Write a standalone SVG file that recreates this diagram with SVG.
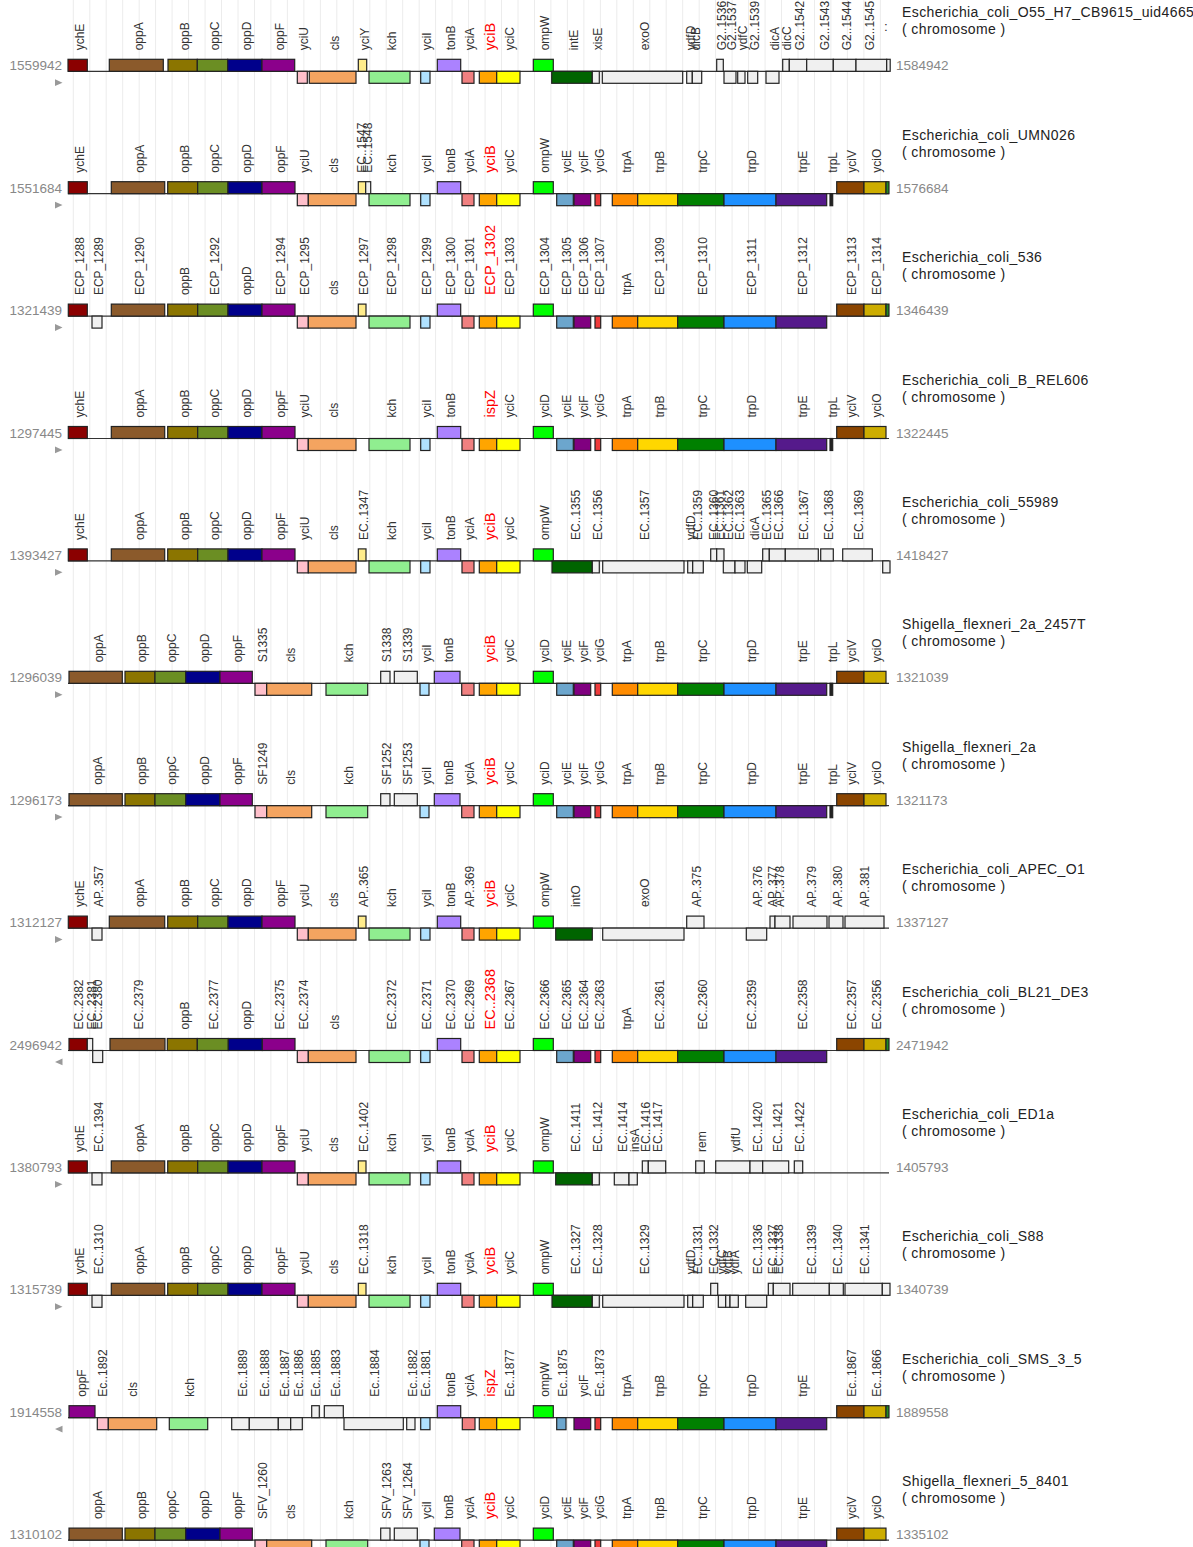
<svg xmlns="http://www.w3.org/2000/svg" width="1193" height="1547" viewBox="0 0 1193 1547">
<style>
.g rect{stroke:#222;stroke-width:1.2}
.l{font-family:"Liberation Sans",Arial,sans-serif;font-size:12px;fill:#333;dominant-baseline:central}
.r{fill:#f00;font-size:14.5px}
.n{font-family:"Liberation Sans",Arial,sans-serif;font-size:13.5px;fill:#888}
.sp{font-family:"Liberation Sans",Arial,sans-serif;font-size:14px;letter-spacing:0.4px;fill:#222}
.bl{stroke:#333;stroke-width:1.2}
.grid line{stroke:#ececec;stroke-width:1}
.ar{fill:#999}
.ychE{fill:#8b0000}.oppA{fill:#8b5a2b}.oppB{fill:#8b7500}.oppC{fill:#6b8e23}.oppD{fill:#00008b}.oppF{fill:#8b008b}
.yciU{fill:#ffc0cb}.cls{fill:#f4a460}.yciY{fill:#ffec8b}.kch{fill:#90ee90}.yciI{fill:#b0e2ff}.tonB{fill:#ab82ff}
.yciA{fill:#f08080}.yciB{fill:#ffa500}.yciC{fill:#ffff00}.ompW{fill:#00ff00}.intE{fill:#006400}.gr{fill:#f0f0f0}
.yciE{fill:#6ca6cd}.yciF{fill:#800080}.yciG{fill:#ee3b3b}.trpA{fill:#ff8c00}.trpB{fill:#ffd700}.trpC{fill:#008000}
.trpD{fill:#1e90ff}.trpE{fill:#551a8b}.trpL{fill:#222}.yciV{fill:#8b4500}.yciO{fill:#cdad00}.tail{fill:#228b22}
</style>
<g class="grid" id="grid">
<line x1="73.3" y1="0" x2="73.3" y2="1547"/><line x1="89.8" y1="0" x2="89.8" y2="1547"/><line x1="106.2" y1="0" x2="106.2" y2="1547"/><line x1="122.7" y1="0" x2="122.7" y2="1547"/><line x1="139.2" y1="0" x2="139.2" y2="1547"/><line x1="155.6" y1="0" x2="155.6" y2="1547"/><line x1="172.1" y1="0" x2="172.1" y2="1547"/><line x1="188.6" y1="0" x2="188.6" y2="1547"/><line x1="205.1" y1="0" x2="205.1" y2="1547"/><line x1="221.5" y1="0" x2="221.5" y2="1547"/>
<line x1="238" y1="0" x2="238" y2="1547"/><line x1="254.5" y1="0" x2="254.5" y2="1547"/><line x1="270.9" y1="0" x2="270.9" y2="1547"/><line x1="287.4" y1="0" x2="287.4" y2="1547"/><line x1="303.9" y1="0" x2="303.9" y2="1547"/><line x1="320.4" y1="0" x2="320.4" y2="1547"/><line x1="336.8" y1="0" x2="336.8" y2="1547"/><line x1="353.3" y1="0" x2="353.3" y2="1547"/><line x1="369.8" y1="0" x2="369.8" y2="1547"/><line x1="386.2" y1="0" x2="386.2" y2="1547"/>
<line x1="402.7" y1="0" x2="402.7" y2="1547"/><line x1="419.2" y1="0" x2="419.2" y2="1547"/><line x1="435.6" y1="0" x2="435.6" y2="1547"/><line x1="452.1" y1="0" x2="452.1" y2="1547"/><line x1="468.6" y1="0" x2="468.6" y2="1547"/><line x1="485.1" y1="0" x2="485.1" y2="1547"/><line x1="501.5" y1="0" x2="501.5" y2="1547"/><line x1="518" y1="0" x2="518" y2="1547"/><line x1="534.5" y1="0" x2="534.5" y2="1547"/><line x1="550.9" y1="0" x2="550.9" y2="1547"/>
<line x1="567.4" y1="0" x2="567.4" y2="1547"/><line x1="583.9" y1="0" x2="583.9" y2="1547"/><line x1="600.4" y1="0" x2="600.4" y2="1547"/><line x1="616.8" y1="0" x2="616.8" y2="1547"/><line x1="633.3" y1="0" x2="633.3" y2="1547"/><line x1="649.8" y1="0" x2="649.8" y2="1547"/><line x1="666.2" y1="0" x2="666.2" y2="1547"/><line x1="682.7" y1="0" x2="682.7" y2="1547"/><line x1="699.2" y1="0" x2="699.2" y2="1547"/><line x1="715.6" y1="0" x2="715.6" y2="1547"/>
<line x1="732.1" y1="0" x2="732.1" y2="1547"/><line x1="748.6" y1="0" x2="748.6" y2="1547"/><line x1="765.1" y1="0" x2="765.1" y2="1547"/><line x1="781.5" y1="0" x2="781.5" y2="1547"/><line x1="798" y1="0" x2="798" y2="1547"/><line x1="814.5" y1="0" x2="814.5" y2="1547"/><line x1="830.9" y1="0" x2="830.9" y2="1547"/><line x1="847.4" y1="0" x2="847.4" y2="1547"/><line x1="863.9" y1="0" x2="863.9" y2="1547"/><line x1="880.4" y1="0" x2="880.4" y2="1547"/>
</g>
<g id="connectors">
<line class="bl" x1="68" y1="71.3" x2="889" y2="71.3"/><line class="bl" x1="68" y1="193.7" x2="889" y2="193.7"/><line class="bl" x1="68" y1="316.1" x2="889" y2="316.1"/><line class="bl" x1="68" y1="438.5" x2="889" y2="438.5"/><line class="bl" x1="68" y1="560.9" x2="889" y2="560.9"/><line class="bl" x1="68" y1="683.3" x2="889" y2="683.3"/><line class="bl" x1="68" y1="805.7" x2="889" y2="805.7"/><line class="bl" x1="68" y1="928.1" x2="889" y2="928.1"/><line class="bl" x1="68" y1="1050.5" x2="889" y2="1050.5"/><line class="bl" x1="68" y1="1172.9" x2="889" y2="1172.9"/><line class="bl" x1="68" y1="1295.3" x2="889" y2="1295.3"/><line class="bl" x1="68" y1="1417.7" x2="889" y2="1417.7"/><line class="bl" x1="68" y1="1540.1" x2="889" y2="1540.1"/>
</g>

<!-- Track 1 -->
<g id="track1" class="g" transform="translate(0,71.3)">
<text class="n" x="62" y="-1" text-anchor="end">1559942</text><text class="n" x="896" y="-1">1584942</text>
<polygon class="ar" points="55,8 62.5,11.4 55,14.8"/>
<text class="sp" x="902" y="-54">Escherichia_coli_O55_H7_CB9615_uid46655</text><text class="sp" x="902" y="-37">( chromosome )</text>
<g id="t1_1"><rect class="ychE" x="68" y="-12" width="19.3" height="12"/><text class="l" transform="translate(79.7,-21)rotate(-90)">ychE</text></g>
<g id="t1_2"><rect class="oppA" x="109.3" y="-12" width="54" height="12"/><text class="l" transform="translate(139,-21)rotate(-90)">oppA</text></g>
<g id="t1_3"><rect class="oppB" x="168" y="-12" width="29.3" height="12"/><text class="l" transform="translate(184.7,-21)rotate(-90)">oppB</text></g>
<g id="t1_4"><rect class="oppC" x="197.3" y="-12" width="30.4" height="12"/><text class="l" transform="translate(214.5,-21)rotate(-90)">oppC</text></g>
<g id="t1_5"><rect class="oppD" x="227.7" y="-12" width="34.3" height="12"/><text class="l" transform="translate(246.9,-21)rotate(-90)">oppD</text></g>
<g id="t1_6"><rect class="oppF" x="262" y="-12" width="32.7" height="12"/><text class="l" transform="translate(280.4,-21)rotate(-90)">oppF</text></g>
<g id="t1_7"><rect class="yciU" x="297.3" y="0" width="10" height="12"/><text class="l" transform="translate(304.3,-21)rotate(-90)">yciU</text></g>
<g id="t1_8"><rect class="cls" x="309.3" y="0" width="46.7" height="12"/><text class="l" transform="translate(334.7,-21)rotate(-90)">cls</text></g>
<g id="t1_9"><rect class="yciY" x="358.3" y="-12" width="8.4" height="12"/><text class="l" transform="translate(364.5,-21)rotate(-90)">yciY</text></g>
<g id="t1_10"><rect class="kch" x="369" y="0" width="41" height="12"/><text class="l" transform="translate(391.5,-21)rotate(-90)">kch</text></g>
<g id="t1_11"><rect class="yciI" x="420.7" y="0" width="9.3" height="12"/><text class="l" transform="translate(427.4,-21)rotate(-90)">yciI</text></g>
<g id="t1_12"><rect class="tonB" x="437.3" y="-12" width="23.4" height="12"/><text class="l" transform="translate(451,-21)rotate(-90)">tonB</text></g>
<g id="t1_13"><rect class="yciA" x="462" y="0" width="12" height="12"/><text class="l" transform="translate(470,-21)rotate(-90)">yciA</text></g>
<g id="t1_14"><rect class="yciB" x="479.3" y="0" width="17.4" height="12"/><text class="l r" transform="translate(490,-21)rotate(-90)">yciB</text></g>
<g id="t1_15"><rect class="yciC" x="496.7" y="0" width="23.3" height="12"/><text class="l" transform="translate(510.4,-21)rotate(-90)">yciC</text></g>
<g id="t1_16"><rect class="ompW" x="533.3" y="-12" width="20" height="12"/><text class="l" transform="translate(545.3,-21)rotate(-90)">ompW</text></g>
<g id="t1_17"><rect class="intE" x="551.7" y="0" width="40.6" height="12"/><text class="l" transform="translate(574,-21)rotate(-90)">intE</text></g>
<g id="t1_18"><rect class="gr" x="592.3" y="0" width="7" height="12"/><text class="l" transform="translate(597.8,-21)rotate(-90)">xisE</text></g>
<g id="t1_19"><rect class="gr" x="602.3" y="0" width="80.4" height="12"/><text class="l" transform="translate(644.5,-21)rotate(-90)">exoO</text></g>
<g id="t1_20"><rect class="gr" x="686.7" y="0" width="5.6" height="12"/><text class="l" transform="translate(691,-21)rotate(-90)">ydfD</text></g>
<g id="t1_21"><rect class="gr" x="692.3" y="0" width="9.4" height="12"/><text class="l" transform="translate(696,-21)rotate(-90)">dicB</text></g>
<g id="t1_22"><rect class="gr" x="716.7" y="-12" width="6.6" height="12"/><text class="l" transform="translate(721.5,-21)rotate(-90)">G2..1536</text></g>
<g id="t1_23"><rect class="gr" x="724" y="0" width="12" height="12"/><text class="l" transform="translate(731.5,-21)rotate(-90)">G2..1537</text></g>
<g id="t1_24"><rect class="gr" x="737.7" y="0" width="7.3" height="12"/><text class="l" transform="translate(742.5,-21)rotate(-90)">ydfC</text></g>
<g id="t1_25"><rect class="gr" x="747.7" y="0" width="10" height="12"/><text class="l" transform="translate(754.5,-21)rotate(-90)">G2..1539</text></g>
<g id="t1_26"><rect class="gr" x="766" y="0" width="13" height="12"/><text class="l" transform="translate(774.5,-21)rotate(-90)">dicA</text></g>
<g id="t1_27"><rect class="gr" x="782.7" y="-12" width="6.6" height="12"/><text class="l" transform="translate(787,-21)rotate(-90)">dicC</text></g>
<g id="t1_28"><rect class="gr" x="789.3" y="-12" width="17.4" height="12"/><text class="l" transform="translate(799.5,-21)rotate(-90)">G2..1542</text></g>
<g id="t1_29"><rect class="gr" x="806.7" y="-12" width="26.6" height="12"/><text class="l" transform="translate(825,-21)rotate(-90)">G2..1543</text></g>
<g id="t1_30"><rect class="gr" x="833.3" y="-12" width="22.7" height="12"/><text class="l" transform="translate(846.5,-21)rotate(-90)">G2..1544</text></g>
<g id="t1_31"><rect class="gr" x="856" y="-12" width="30.7" height="12"/><text class="l" transform="translate(870,-21)rotate(-90)">G2..1545</text></g>
<g id="t1_32"><rect class="gr" x="886.7" y="-12" width="3.5" height="12"/><text class="n" x="884" y="-40" style="fill:#333">:</text></g>
</g>

<!-- Track 2 -->
<g id="track2" class="g" transform="translate(0,193.7)">
<text class="n" x="62" y="-1" text-anchor="end">1551684</text><text class="n" x="896" y="-1">1576684</text>
<polygon class="ar" points="55,8 62.5,11.4 55,14.8"/>
<text class="sp" x="902" y="-54">Escherichia_coli_UMN026</text><text class="sp" x="902" y="-37">( chromosome )</text>
<g id="t2_1"><rect class="ychE" x="68.3" y="-12" width="19" height="12"/><text class="l" transform="translate(79.8,-21)rotate(-90)">ychE</text></g>
<g id="t2_2"><rect class="oppA" x="111.3" y="-12" width="53.4" height="12"/><text class="l" transform="translate(140,-21)rotate(-90)">oppA</text></g>
<g id="t2_3"><rect class="oppB" x="167.7" y="-12" width="30" height="12"/><text class="l" transform="translate(184.7,-21)rotate(-90)">oppB</text></g>
<g id="t2_4"><rect class="oppC" x="197.7" y="-12" width="30.3" height="12"/><text class="l" transform="translate(214.8,-21)rotate(-90)">oppC</text></g>
<g id="t2_5"><rect class="oppD" x="228" y="-12" width="34" height="12"/><text class="l" transform="translate(247,-21)rotate(-90)">oppD</text></g>
<g id="t2_6"><rect class="oppF" x="262" y="-12" width="33" height="12"/><text class="l" transform="translate(280.5,-21)rotate(-90)">oppF</text></g>
<g id="t2_7"><rect class="yciU" x="297.3" y="0" width="11" height="12"/><text class="l" transform="translate(304.8,-21)rotate(-90)">yciU</text></g>
<g id="t2_8"><rect class="cls" x="308.3" y="0" width="47.7" height="12"/><text class="l" transform="translate(334.2,-21)rotate(-90)">cls</text></g>
<g id="t2_9"><rect class="yciY" x="358.3" y="-12" width="7.4" height="12"/><text class="l" transform="translate(362,-21)rotate(-90)">EC..1547</text></g>
<g id="t2_10"><rect class="gr" x="365.7" y="-12" width="5" height="12"/><text class="l" transform="translate(367.5,-21)rotate(-90)">EC..1548</text></g>
<g id="t2_11"><rect class="kch" x="369" y="0" width="41" height="12"/><text class="l" transform="translate(391.5,-21)rotate(-90)">kch</text></g>
<g id="t2_12"><rect class="yciI" x="420.7" y="0" width="9.3" height="12"/><text class="l" transform="translate(427.4,-21)rotate(-90)">yciI</text></g>
<g id="t2_13"><rect class="tonB" x="437.3" y="-12" width="23.4" height="12"/><text class="l" transform="translate(451,-21)rotate(-90)">tonB</text></g>
<g id="t2_14"><rect class="yciA" x="462" y="0" width="12" height="12"/><text class="l" transform="translate(470,-21)rotate(-90)">yciA</text></g>
<g id="t2_15"><rect class="yciB" x="479.3" y="0" width="17.4" height="12"/><text class="l r" transform="translate(490,-21)rotate(-90)">yciB</text></g>
<g id="t2_16"><rect class="yciC" x="496.7" y="0" width="23.3" height="12"/><text class="l" transform="translate(510.4,-21)rotate(-90)">yciC</text></g>
<g id="t2_17"><rect class="ompW" x="533.3" y="-12" width="20" height="12"/><text class="l" transform="translate(545.3,-21)rotate(-90)">ompW</text></g>
<g id="t2_18"><rect class="yciE" x="556.7" y="0" width="16.6" height="12"/><text class="l" transform="translate(567,-21)rotate(-90)">yciE</text></g>
<g id="t2_19"><rect class="yciF" x="574" y="0" width="16.7" height="12"/><text class="l" transform="translate(584.4,-21)rotate(-90)">yciF</text></g>
<g id="t2_20"><rect class="yciG" x="595" y="0" width="5.7" height="12"/><text class="l" transform="translate(599.8,-21)rotate(-90)">yciG</text></g>
<g id="t2_21"><rect class="trpA" x="612.3" y="0" width="25.4" height="12"/><text class="l" transform="translate(627,-21)rotate(-90)">trpA</text></g>
<g id="t2_22"><rect class="trpB" x="637.7" y="0" width="40" height="12"/><text class="l" transform="translate(659.7,-21)rotate(-90)">trpB</text></g>
<g id="t2_23"><rect class="trpC" x="677.7" y="0" width="46.3" height="12"/><text class="l" transform="translate(702.8,-21)rotate(-90)">trpC</text></g>
<g id="t2_24"><rect class="trpD" x="724" y="0" width="52" height="12"/><text class="l" transform="translate(752,-21)rotate(-90)">trpD</text></g>
<g id="t2_25"><rect class="trpE" x="776" y="0" width="50.7" height="12"/><text class="l" transform="translate(803.3,-21)rotate(-90)">trpE</text></g>
<g id="t2_26"><rect class="trpL" x="830" y="0" width="2.7" height="12"/><text class="l" transform="translate(833.3,-21)rotate(-90)">trpL</text></g>
<g id="t2_27"><rect class="yciV" x="836.7" y="-12" width="27.3" height="12"/><text class="l" transform="translate(852.3,-21)rotate(-90)">yciV</text></g>
<g id="t2_28"><rect class="yciO" x="864" y="-12" width="22" height="12"/><text class="l" transform="translate(877,-21)rotate(-90)">yciO</text></g>
<g id="t2_29"><rect class="tail" x="886" y="-12" width="3" height="12"/></g>
</g>

<!-- Track 3 -->
<g id="track3" class="g" transform="translate(0,316.1)">
<text class="n" x="62" y="-1" text-anchor="end">1321439</text><text class="n" x="896" y="-1">1346439</text>
<polygon class="ar" points="55,8 62.5,11.4 55,14.8"/>
<text class="sp" x="902" y="-54">Escherichia_coli_536</text><text class="sp" x="902" y="-37">( chromosome )</text>
<g id="t3_1"><rect class="ychE" x="68.3" y="-12" width="19" height="12"/><text class="l" transform="translate(79.8,-21)rotate(-90)">ECP_1288</text></g>
<g id="t3_2"><rect class="gr" x="92" y="0" width="10" height="12"/><text class="l" transform="translate(99,-21)rotate(-90)">ECP_1289</text></g>
<g id="t3_3"><rect class="oppA" x="111.3" y="-12" width="53.4" height="12"/><text class="l" transform="translate(140,-21)rotate(-90)">ECP_1290</text></g>
<g id="t3_4"><rect class="oppB" x="167.7" y="-12" width="30" height="12"/><text class="l" transform="translate(184.7,-21)rotate(-90)">oppB</text></g>
<g id="t3_5"><rect class="oppC" x="197.7" y="-12" width="30.3" height="12"/><text class="l" transform="translate(214.8,-21)rotate(-90)">ECP_1292</text></g>
<g id="t3_6"><rect class="oppD" x="228" y="-12" width="34" height="12"/><text class="l" transform="translate(247,-21)rotate(-90)">oppD</text></g>
<g id="t3_7"><rect class="oppF" x="262" y="-12" width="33" height="12"/><text class="l" transform="translate(280.5,-21)rotate(-90)">ECP_1294</text></g>
<g id="t3_8"><rect class="yciU" x="297.3" y="0" width="11" height="12"/><text class="l" transform="translate(304.8,-21)rotate(-90)">ECP_1295</text></g>
<g id="t3_9"><rect class="cls" x="308.3" y="0" width="47.7" height="12"/><text class="l" transform="translate(334.2,-21)rotate(-90)">cls</text></g>
<g id="t3_10"><rect class="yciY" x="358.3" y="-12" width="7.7" height="12"/><text class="l" transform="translate(364.2,-21)rotate(-90)">ECP_1297</text></g>
<g id="t3_11"><rect class="kch" x="369" y="0" width="41" height="12"/><text class="l" transform="translate(391.5,-21)rotate(-90)">ECP_1298</text></g>
<g id="t3_12"><rect class="yciI" x="420.7" y="0" width="9.3" height="12"/><text class="l" transform="translate(427.4,-21)rotate(-90)">ECP_1299</text></g>
<g id="t3_13"><rect class="tonB" x="437.3" y="-12" width="23.4" height="12"/><text class="l" transform="translate(451,-21)rotate(-90)">ECP_1300</text></g>
<g id="t3_14"><rect class="yciA" x="462" y="0" width="12" height="12"/><text class="l" transform="translate(470,-21)rotate(-90)">ECP_1301</text></g>
<g id="t3_15"><rect class="yciB" x="479.3" y="0" width="17.4" height="12"/><text class="l r" transform="translate(490,-21)rotate(-90)">ECP_1302</text></g>
<g id="t3_16"><rect class="yciC" x="496.7" y="0" width="23.3" height="12"/><text class="l" transform="translate(510.4,-21)rotate(-90)">ECP_1303</text></g>
<g id="t3_17"><rect class="ompW" x="533.3" y="-12" width="20" height="12"/><text class="l" transform="translate(545.3,-21)rotate(-90)">ECP_1304</text></g>
<g id="t3_18"><rect class="yciE" x="556.7" y="0" width="16.6" height="12"/><text class="l" transform="translate(567,-21)rotate(-90)">ECP_1305</text></g>
<g id="t3_19"><rect class="yciF" x="574" y="0" width="16.7" height="12"/><text class="l" transform="translate(584.4,-21)rotate(-90)">ECP_1306</text></g>
<g id="t3_20"><rect class="yciG" x="595" y="0" width="5.7" height="12"/><text class="l" transform="translate(599.8,-21)rotate(-90)">ECP_1307</text></g>
<g id="t3_21"><rect class="trpA" x="612.3" y="0" width="25.4" height="12"/><text class="l" transform="translate(627,-21)rotate(-90)">trpA</text></g>
<g id="t3_22"><rect class="trpB" x="637.7" y="0" width="40" height="12"/><text class="l" transform="translate(659.7,-21)rotate(-90)">ECP_1309</text></g>
<g id="t3_23"><rect class="trpC" x="677.7" y="0" width="46.3" height="12"/><text class="l" transform="translate(702.8,-21)rotate(-90)">ECP_1310</text></g>
<g id="t3_24"><rect class="trpD" x="724" y="0" width="52" height="12"/><text class="l" transform="translate(752,-21)rotate(-90)">ECP_1311</text></g>
<g id="t3_25"><rect class="trpE" x="776" y="0" width="50.7" height="12"/><text class="l" transform="translate(803.3,-21)rotate(-90)">ECP_1312</text></g>
<g id="t3_26"><rect class="yciV" x="836.7" y="-12" width="27.3" height="12"/><text class="l" transform="translate(852.3,-21)rotate(-90)">ECP_1313</text></g>
<g id="t3_27"><rect class="yciO" x="864" y="-12" width="22" height="12"/><text class="l" transform="translate(877,-21)rotate(-90)">ECP_1314</text></g>
<g id="t3_28"><rect class="tail" x="886" y="-12" width="3" height="12"/></g>
</g>

<!-- Track 4 -->
<g id="track4" class="g" transform="translate(0,438.5)">
<text class="n" x="62" y="-1" text-anchor="end">1297445</text><text class="n" x="896" y="-1">1322445</text>
<polygon class="ar" points="55,8 62.5,11.4 55,14.8"/>
<text class="sp" x="902" y="-54">Escherichia_coli_B_REL606</text><text class="sp" x="902" y="-37">( chromosome )</text>
<g id="t4_1"><rect class="ychE" x="68.3" y="-12" width="19" height="12"/><text class="l" transform="translate(79.8,-21)rotate(-90)">ychE</text></g>
<g id="t4_2"><rect class="oppA" x="111.3" y="-12" width="53.4" height="12"/><text class="l" transform="translate(140,-21)rotate(-90)">oppA</text></g>
<g id="t4_3"><rect class="oppB" x="167.7" y="-12" width="30" height="12"/><text class="l" transform="translate(184.7,-21)rotate(-90)">oppB</text></g>
<g id="t4_4"><rect class="oppC" x="197.7" y="-12" width="30.3" height="12"/><text class="l" transform="translate(214.8,-21)rotate(-90)">oppC</text></g>
<g id="t4_5"><rect class="oppD" x="228" y="-12" width="34" height="12"/><text class="l" transform="translate(247,-21)rotate(-90)">oppD</text></g>
<g id="t4_6"><rect class="oppF" x="262" y="-12" width="33" height="12"/><text class="l" transform="translate(280.5,-21)rotate(-90)">oppF</text></g>
<g id="t4_7"><rect class="yciU" x="297.3" y="0" width="11" height="12"/><text class="l" transform="translate(304.8,-21)rotate(-90)">yciU</text></g>
<g id="t4_8"><rect class="cls" x="308.3" y="0" width="47.7" height="12"/><text class="l" transform="translate(334.2,-21)rotate(-90)">cls</text></g>
<g id="t4_9"><rect class="kch" x="369" y="0" width="41" height="12"/><text class="l" transform="translate(391.5,-21)rotate(-90)">kch</text></g>
<g id="t4_10"><rect class="yciI" x="420.7" y="0" width="9.3" height="12"/><text class="l" transform="translate(427.4,-21)rotate(-90)">yciI</text></g>
<g id="t4_11"><rect class="tonB" x="437.3" y="-12" width="23.4" height="12"/><text class="l" transform="translate(451,-21)rotate(-90)">tonB</text></g>
<g id="t4_12"><rect class="yciA" x="462" y="0" width="12" height="12"/></g>
<g id="t4_13"><rect class="yciB" x="479.3" y="0" width="17.4" height="12"/><text class="l r" transform="translate(490,-21)rotate(-90)">ispZ</text></g>
<g id="t4_14"><rect class="yciC" x="496.7" y="0" width="23.3" height="12"/><text class="l" transform="translate(510.4,-21)rotate(-90)">yciC</text></g>
<g id="t4_15"><rect class="ompW" x="533.3" y="-12" width="20" height="12"/><text class="l" transform="translate(545.3,-21)rotate(-90)">yciD</text></g>
<g id="t4_16"><rect class="yciE" x="556.7" y="0" width="16.6" height="12"/><text class="l" transform="translate(567,-21)rotate(-90)">yciE</text></g>
<g id="t4_17"><rect class="yciF" x="574" y="0" width="16.7" height="12"/><text class="l" transform="translate(584.4,-21)rotate(-90)">yciF</text></g>
<g id="t4_18"><rect class="yciG" x="595" y="0" width="5.7" height="12"/><text class="l" transform="translate(599.8,-21)rotate(-90)">yciG</text></g>
<g id="t4_19"><rect class="trpA" x="612.3" y="0" width="25.4" height="12"/><text class="l" transform="translate(627,-21)rotate(-90)">trpA</text></g>
<g id="t4_20"><rect class="trpB" x="637.7" y="0" width="40" height="12"/><text class="l" transform="translate(659.7,-21)rotate(-90)">trpB</text></g>
<g id="t4_21"><rect class="trpC" x="677.7" y="0" width="46.3" height="12"/><text class="l" transform="translate(702.8,-21)rotate(-90)">trpC</text></g>
<g id="t4_22"><rect class="trpD" x="724" y="0" width="52" height="12"/><text class="l" transform="translate(752,-21)rotate(-90)">trpD</text></g>
<g id="t4_23"><rect class="trpE" x="776" y="0" width="50.7" height="12"/><text class="l" transform="translate(803.3,-21)rotate(-90)">trpE</text></g>
<g id="t4_24"><rect class="trpL" x="830" y="0" width="2.7" height="12"/><text class="l" transform="translate(833.3,-21)rotate(-90)">trpL</text></g>
<g id="t4_25"><rect class="yciV" x="836.7" y="-12" width="27.3" height="12"/><text class="l" transform="translate(852.3,-21)rotate(-90)">yciV</text></g>
<g id="t4_26"><rect class="yciO" x="864" y="-12" width="22" height="12"/><text class="l" transform="translate(877,-21)rotate(-90)">yciO</text></g>
</g>

<!-- Track 5 -->
<g id="track5" class="g" transform="translate(0,560.9)">
<text class="n" x="62" y="-1" text-anchor="end">1393427</text><text class="n" x="896" y="-1">1418427</text>
<polygon class="ar" points="55,8 62.5,11.4 55,14.8"/>
<text class="sp" x="902" y="-54">Escherichia_coli_55989</text><text class="sp" x="902" y="-37">( chromosome )</text>
<g id="t5_1"><rect class="ychE" x="68.3" y="-12" width="19" height="12"/><text class="l" transform="translate(79.8,-21)rotate(-90)">ychE</text></g>
<g id="t5_2"><rect class="oppA" x="111.3" y="-12" width="53.4" height="12"/><text class="l" transform="translate(140,-21)rotate(-90)">oppA</text></g>
<g id="t5_3"><rect class="oppB" x="167.7" y="-12" width="30" height="12"/><text class="l" transform="translate(184.7,-21)rotate(-90)">oppB</text></g>
<g id="t5_4"><rect class="oppC" x="197.7" y="-12" width="30.3" height="12"/><text class="l" transform="translate(214.8,-21)rotate(-90)">oppC</text></g>
<g id="t5_5"><rect class="oppD" x="228" y="-12" width="34" height="12"/><text class="l" transform="translate(247,-21)rotate(-90)">oppD</text></g>
<g id="t5_6"><rect class="oppF" x="262" y="-12" width="33" height="12"/><text class="l" transform="translate(280.5,-21)rotate(-90)">oppF</text></g>
<g id="t5_7"><rect class="yciU" x="297.3" y="0" width="11" height="12"/><text class="l" transform="translate(304.8,-21)rotate(-90)">yciU</text></g>
<g id="t5_8"><rect class="cls" x="308.3" y="0" width="47.7" height="12"/><text class="l" transform="translate(334.2,-21)rotate(-90)">cls</text></g>
<g id="t5_9"><rect class="yciY" x="358.3" y="-12" width="7.7" height="12"/><text class="l" transform="translate(364.2,-21)rotate(-90)">EC..1347</text></g>
<g id="t5_10"><rect class="kch" x="369" y="0" width="41" height="12"/><text class="l" transform="translate(391.5,-21)rotate(-90)">kch</text></g>
<g id="t5_11"><rect class="yciI" x="420.7" y="0" width="9.3" height="12"/><text class="l" transform="translate(427.4,-21)rotate(-90)">yciI</text></g>
<g id="t5_12"><rect class="tonB" x="437.3" y="-12" width="23.4" height="12"/><text class="l" transform="translate(451,-21)rotate(-90)">tonB</text></g>
<g id="t5_13"><rect class="yciA" x="462" y="0" width="12" height="12"/><text class="l" transform="translate(470,-21)rotate(-90)">yciA</text></g>
<g id="t5_14"><rect class="yciB" x="479.3" y="0" width="17.4" height="12"/><text class="l r" transform="translate(490,-21)rotate(-90)">yciB</text></g>
<g id="t5_15"><rect class="yciC" x="496.7" y="0" width="23.3" height="12"/><text class="l" transform="translate(510.4,-21)rotate(-90)">yciC</text></g>
<g id="t5_16"><rect class="ompW" x="533.3" y="-12" width="20" height="12"/><text class="l" transform="translate(545.3,-21)rotate(-90)">ompW</text></g>
<g id="t5_17"><rect class="intE" x="552" y="0" width="40.3" height="12"/><text class="l" transform="translate(576,-21)rotate(-90)">EC..1355</text></g>
<g id="t5_18"><rect class="gr" x="592.3" y="0" width="7" height="12"/><text class="l" transform="translate(598,-21)rotate(-90)">EC..1356</text></g>
<g id="t5_19"><rect class="gr" x="602.7" y="0" width="81.3" height="12"/><text class="l" transform="translate(645,-21)rotate(-90)">EC..1357</text></g>
<g id="t5_20"><rect class="gr" x="687.7" y="0" width="5" height="12"/><text class="l" transform="translate(691,-21)rotate(-90)">ydfD</text></g>
<g id="t5_21"><rect class="gr" x="692.7" y="0" width="10.6" height="12"/><text class="l" transform="translate(698,-21)rotate(-90)">EC..1359</text></g>
<g id="t5_22"><rect class="gr" x="710.7" y="-12" width="6" height="12"/><text class="l" transform="translate(714,-21)rotate(-90)">EC..1360</text></g>
<g id="t5_23"><rect class="gr" x="716.7" y="-12" width="7.3" height="12"/><text class="l" transform="translate(719.5,-21)rotate(-90)">EC..1361</text></g>
<g id="t5_24"><rect class="gr" x="723.3" y="0" width="11.7" height="12"/><text class="l" transform="translate(729,-21)rotate(-90)">EC..1362</text></g>
<g id="t5_25"><rect class="gr" x="735" y="0" width="10" height="12"/><text class="l" transform="translate(740,-21)rotate(-90)">EC..1363</text></g>
<g id="t5_26"><rect class="gr" x="747.3" y="0" width="14.4" height="12"/><text class="l" transform="translate(755,-21)rotate(-90)">dicA</text></g>
<g id="t5_27"><rect class="gr" x="762.7" y="-12" width="6.6" height="12"/><text class="l" transform="translate(767,-21)rotate(-90)">EC..1365</text></g>
<g id="t5_28"><rect class="gr" x="769.3" y="-12" width="16" height="12"/><text class="l" transform="translate(779,-21)rotate(-90)">EC..1366</text></g>
<g id="t5_29"><rect class="gr" x="785.3" y="-12" width="33" height="12"/><text class="l" transform="translate(803.5,-21)rotate(-90)">EC..1367</text></g>
<g id="t5_30"><rect class="gr" x="820.7" y="-12" width="12.6" height="12"/><text class="l" transform="translate(828.5,-21)rotate(-90)">EC..1368</text></g>
<g id="t5_31"><rect class="gr" x="842.7" y="-12" width="29.6" height="12"/><text class="l" transform="translate(859,-21)rotate(-90)">EC..1369</text></g>
<g id="t5_32"><rect class="gr" x="882.7" y="0" width="7.3" height="12"/></g>
</g>

<!-- Track 6 -->
<g id="track6" class="g" transform="translate(0,683.3)">
<text class="n" x="62" y="-1" text-anchor="end">1296039</text><text class="n" x="896" y="-1">1321039</text>
<polygon class="ar" points="55,8 62.5,11.4 55,14.8"/>
<text class="sp" x="902" y="-54">Shigella_flexneri_2a_2457T</text><text class="sp" x="902" y="-37">( chromosome )</text>
<g id="t6_1"><rect class="oppA" x="69" y="-12" width="53.3" height="12"/><text class="l" transform="translate(99,-21)rotate(-90)">oppA</text></g>
<g id="t6_2"><rect class="oppB" x="125" y="-12" width="30" height="12"/><text class="l" transform="translate(142,-21)rotate(-90)">oppB</text></g>
<g id="t6_3"><rect class="oppC" x="155" y="-12" width="30.7" height="12"/><text class="l" transform="translate(172.3,-21)rotate(-90)">oppC</text></g>
<g id="t6_4"><rect class="oppD" x="185.7" y="-12" width="34.3" height="12"/><text class="l" transform="translate(204.8,-21)rotate(-90)">oppD</text></g>
<g id="t6_5"><rect class="oppF" x="220" y="-12" width="32.3" height="12"/><text class="l" transform="translate(238.2,-21)rotate(-90)">oppF</text></g>
<g id="t6_6"><rect class="yciU" x="255" y="0" width="11.7" height="12"/><text class="l" transform="translate(262.8,-21)rotate(-90)">S1335</text></g>
<g id="t6_7"><rect class="cls" x="266.7" y="0" width="45" height="12"/><text class="l" transform="translate(291.2,-21)rotate(-90)">cls</text></g>
<g id="t6_8"><rect class="kch" x="326" y="0" width="41.7" height="12"/><text class="l" transform="translate(348.8,-21)rotate(-90)">kch</text></g>
<g id="t6_9"><rect class="gr" x="380.7" y="-12" width="9.3" height="12"/><text class="l" transform="translate(387.3,-21)rotate(-90)">S1338</text></g>
<g id="t6_10"><rect class="gr" x="394.3" y="-12" width="23" height="12"/><text class="l" transform="translate(407.8,-21)rotate(-90)">S1339</text></g>
<g id="t6_11"><rect class="yciI" x="420" y="0" width="9" height="12"/><text class="l" transform="translate(426.5,-21)rotate(-90)">yciI</text></g>
<g id="t6_12"><rect class="tonB" x="434.3" y="-12" width="25.7" height="12"/><text class="l" transform="translate(449.2,-21)rotate(-90)">tonB</text></g>
<g id="t6_13"><rect class="yciA" x="461.7" y="0" width="12.3" height="12"/></g>
<g id="t6_14"><rect class="yciB" x="479.3" y="0" width="17.4" height="12"/><text class="l r" transform="translate(490,-21)rotate(-90)">yciB</text></g>
<g id="t6_15"><rect class="yciC" x="496.7" y="0" width="23.3" height="12"/><text class="l" transform="translate(510.4,-21)rotate(-90)">yciC</text></g>
<g id="t6_16"><rect class="ompW" x="533.3" y="-12" width="20" height="12"/><text class="l" transform="translate(545.3,-21)rotate(-90)">yciD</text></g>
<g id="t6_17"><rect class="yciE" x="556.7" y="0" width="16.6" height="12"/><text class="l" transform="translate(567,-21)rotate(-90)">yciE</text></g>
<g id="t6_18"><rect class="yciF" x="574" y="0" width="16.7" height="12"/><text class="l" transform="translate(584.4,-21)rotate(-90)">yciF</text></g>
<g id="t6_19"><rect class="yciG" x="595" y="0" width="5.7" height="12"/><text class="l" transform="translate(599.8,-21)rotate(-90)">yciG</text></g>
<g id="t6_20"><rect class="trpA" x="612.3" y="0" width="25.4" height="12"/><text class="l" transform="translate(627,-21)rotate(-90)">trpA</text></g>
<g id="t6_21"><rect class="trpB" x="637.7" y="0" width="40" height="12"/><text class="l" transform="translate(659.7,-21)rotate(-90)">trpB</text></g>
<g id="t6_22"><rect class="trpC" x="677.7" y="0" width="46.3" height="12"/><text class="l" transform="translate(702.8,-21)rotate(-90)">trpC</text></g>
<g id="t6_23"><rect class="trpD" x="724" y="0" width="52" height="12"/><text class="l" transform="translate(752,-21)rotate(-90)">trpD</text></g>
<g id="t6_24"><rect class="trpE" x="776" y="0" width="50.7" height="12"/><text class="l" transform="translate(803.3,-21)rotate(-90)">trpE</text></g>
<g id="t6_25"><rect class="trpL" x="830" y="0" width="2.7" height="12"/><text class="l" transform="translate(833.3,-21)rotate(-90)">trpL</text></g>
<g id="t6_26"><rect class="yciV" x="836.7" y="-12" width="27.3" height="12"/><text class="l" transform="translate(852.3,-21)rotate(-90)">yciV</text></g>
<g id="t6_27"><rect class="yciO" x="864" y="-12" width="22" height="12"/><text class="l" transform="translate(877,-21)rotate(-90)">yciO</text></g>
</g>

<!-- Track 7 -->
<g id="track7" class="g" transform="translate(0,805.7)">
<text class="n" x="62" y="-1" text-anchor="end">1296173</text><text class="n" x="896" y="-1">1321173</text>
<polygon class="ar" points="55,8 62.5,11.4 55,14.8"/>
<text class="sp" x="902" y="-54">Shigella_flexneri_2a</text><text class="sp" x="902" y="-37">( chromosome )</text>
<g id="t7_1"><rect class="oppA" x="69" y="-12" width="53.3" height="12"/><text class="l" transform="translate(98,-21)rotate(-90)">oppA</text></g>
<g id="t7_2"><rect class="oppB" x="125" y="-12" width="30" height="12"/><text class="l" transform="translate(142,-21)rotate(-90)">oppB</text></g>
<g id="t7_3"><rect class="oppC" x="155" y="-12" width="30.7" height="12"/><text class="l" transform="translate(172.3,-21)rotate(-90)">oppC</text></g>
<g id="t7_4"><rect class="oppD" x="185.7" y="-12" width="34.3" height="12"/><text class="l" transform="translate(204.8,-21)rotate(-90)">oppD</text></g>
<g id="t7_5"><rect class="oppF" x="220" y="-12" width="32.3" height="12"/><text class="l" transform="translate(238.2,-21)rotate(-90)">oppF</text></g>
<g id="t7_6"><rect class="yciU" x="255" y="0" width="11.7" height="12"/><text class="l" transform="translate(262.8,-21)rotate(-90)">SF1249</text></g>
<g id="t7_7"><rect class="cls" x="266.7" y="0" width="45" height="12"/><text class="l" transform="translate(291.2,-21)rotate(-90)">cls</text></g>
<g id="t7_8"><rect class="kch" x="326" y="0" width="41.7" height="12"/><text class="l" transform="translate(348.8,-21)rotate(-90)">kch</text></g>
<g id="t7_9"><rect class="gr" x="380.7" y="-12" width="9.3" height="12"/><text class="l" transform="translate(387.3,-21)rotate(-90)">SF1252</text></g>
<g id="t7_10"><rect class="gr" x="394.3" y="-12" width="23" height="12"/><text class="l" transform="translate(407.8,-21)rotate(-90)">SF1253</text></g>
<g id="t7_11"><rect class="yciI" x="420" y="0" width="9" height="12"/><text class="l" transform="translate(426.5,-21)rotate(-90)">yciI</text></g>
<g id="t7_12"><rect class="tonB" x="434.3" y="-12" width="25.7" height="12"/><text class="l" transform="translate(449.2,-21)rotate(-90)">tonB</text></g>
<g id="t7_13"><rect class="yciA" x="461.7" y="0" width="12.3" height="12"/><text class="l" transform="translate(470,-21)rotate(-90)">yciA</text></g>
<g id="t7_14"><rect class="yciB" x="479.3" y="0" width="17.4" height="12"/><text class="l r" transform="translate(490,-21)rotate(-90)">yciB</text></g>
<g id="t7_15"><rect class="yciC" x="496.7" y="0" width="23.3" height="12"/><text class="l" transform="translate(510.4,-21)rotate(-90)">yciC</text></g>
<g id="t7_16"><rect class="ompW" x="533.3" y="-12" width="20" height="12"/><text class="l" transform="translate(545.3,-21)rotate(-90)">yciD</text></g>
<g id="t7_17"><rect class="yciE" x="556.7" y="0" width="16.6" height="12"/><text class="l" transform="translate(567,-21)rotate(-90)">yciE</text></g>
<g id="t7_18"><rect class="yciF" x="574" y="0" width="16.7" height="12"/><text class="l" transform="translate(584.4,-21)rotate(-90)">yciF</text></g>
<g id="t7_19"><rect class="yciG" x="595" y="0" width="5.7" height="12"/><text class="l" transform="translate(599.8,-21)rotate(-90)">yciG</text></g>
<g id="t7_20"><rect class="trpA" x="612.3" y="0" width="25.4" height="12"/><text class="l" transform="translate(627,-21)rotate(-90)">trpA</text></g>
<g id="t7_21"><rect class="trpB" x="637.7" y="0" width="40" height="12"/><text class="l" transform="translate(659.7,-21)rotate(-90)">trpB</text></g>
<g id="t7_22"><rect class="trpC" x="677.7" y="0" width="46.3" height="12"/><text class="l" transform="translate(702.8,-21)rotate(-90)">trpC</text></g>
<g id="t7_23"><rect class="trpD" x="724" y="0" width="52" height="12"/><text class="l" transform="translate(752,-21)rotate(-90)">trpD</text></g>
<g id="t7_24"><rect class="trpE" x="776" y="0" width="50.7" height="12"/><text class="l" transform="translate(803.3,-21)rotate(-90)">trpE</text></g>
<g id="t7_25"><rect class="trpL" x="830" y="0" width="2.7" height="12"/><text class="l" transform="translate(833.3,-21)rotate(-90)">trpL</text></g>
<g id="t7_26"><rect class="yciV" x="836.7" y="-12" width="27.3" height="12"/><text class="l" transform="translate(852.3,-21)rotate(-90)">yciV</text></g>
<g id="t7_27"><rect class="yciO" x="864" y="-12" width="22" height="12"/><text class="l" transform="translate(877,-21)rotate(-90)">yciO</text></g>
</g>

<!-- Track 8 -->
<g id="track8" class="g" transform="translate(0,928.1)">
<text class="n" x="62" y="-1" text-anchor="end">1312127</text><text class="n" x="896" y="-1">1337127</text>
<polygon class="ar" points="55,8 62.5,11.4 55,14.8"/>
<text class="sp" x="902" y="-54">Escherichia_coli_APEC_O1</text><text class="sp" x="902" y="-37">( chromosome )</text>
<g id="t8_1"><rect class="ychE" x="68.3" y="-12" width="19" height="12"/><text class="l" transform="translate(79.8,-21)rotate(-90)">ychE</text></g>
<g id="t8_2"><rect class="gr" x="92" y="0" width="10" height="12"/><text class="l" transform="translate(99,-21)rotate(-90)">AP..357</text></g>
<g id="t8_3"><rect class="oppA" x="109.3" y="-12" width="55.4" height="12"/><text class="l" transform="translate(140,-21)rotate(-90)">oppA</text></g>
<g id="t8_4"><rect class="oppB" x="167.7" y="-12" width="30" height="12"/><text class="l" transform="translate(184.7,-21)rotate(-90)">oppB</text></g>
<g id="t8_5"><rect class="oppC" x="197.7" y="-12" width="30.3" height="12"/><text class="l" transform="translate(214.8,-21)rotate(-90)">oppC</text></g>
<g id="t8_6"><rect class="oppD" x="228" y="-12" width="34" height="12"/><text class="l" transform="translate(247,-21)rotate(-90)">oppD</text></g>
<g id="t8_7"><rect class="oppF" x="262" y="-12" width="33" height="12"/><text class="l" transform="translate(280.5,-21)rotate(-90)">oppF</text></g>
<g id="t8_8"><rect class="yciU" x="297.3" y="0" width="11" height="12"/><text class="l" transform="translate(304.8,-21)rotate(-90)">yciU</text></g>
<g id="t8_9"><rect class="cls" x="308.3" y="0" width="47.7" height="12"/><text class="l" transform="translate(334.2,-21)rotate(-90)">cls</text></g>
<g id="t8_10"><rect class="yciY" x="358.3" y="-12" width="7.7" height="12"/><text class="l" transform="translate(364.2,-21)rotate(-90)">AP..365</text></g>
<g id="t8_11"><rect class="kch" x="369" y="0" width="41" height="12"/><text class="l" transform="translate(391.5,-21)rotate(-90)">kch</text></g>
<g id="t8_12"><rect class="yciI" x="420.7" y="0" width="9.3" height="12"/><text class="l" transform="translate(427.4,-21)rotate(-90)">yciI</text></g>
<g id="t8_13"><rect class="tonB" x="437.3" y="-12" width="23.4" height="12"/><text class="l" transform="translate(451,-21)rotate(-90)">tonB</text></g>
<g id="t8_14"><rect class="yciA" x="462" y="0" width="12" height="12"/><text class="l" transform="translate(470,-21)rotate(-90)">AP..369</text></g>
<g id="t8_15"><rect class="yciB" x="479.3" y="0" width="17.4" height="12"/><text class="l r" transform="translate(490,-21)rotate(-90)">yciB</text></g>
<g id="t8_16"><rect class="yciC" x="496.7" y="0" width="23.3" height="12"/><text class="l" transform="translate(510.4,-21)rotate(-90)">yciC</text></g>
<g id="t8_17"><rect class="ompW" x="533.3" y="-12" width="20" height="12"/><text class="l" transform="translate(545.3,-21)rotate(-90)">ompW</text></g>
<g id="t8_18"><rect class="intE" x="555.7" y="0" width="36.6" height="12"/><text class="l" transform="translate(576,-21)rotate(-90)">intO</text></g>
<g id="t8_19"><rect class="gr" x="602.7" y="0" width="81.3" height="12"/><text class="l" transform="translate(645,-21)rotate(-90)">exoO</text></g>
<g id="t8_20"><rect class="gr" x="686.7" y="-12" width="17.3" height="12"/><text class="l" transform="translate(697,-21)rotate(-90)">AP..375</text></g>
<g id="t8_21"><rect class="gr" x="746.3" y="0" width="20.4" height="12"/><text class="l" transform="translate(758,-21)rotate(-90)">AP..376</text></g>
<g id="t8_22"><rect class="gr" x="770" y="-12" width="5" height="12"/><text class="l" transform="translate(773,-21)rotate(-90)">AP..377</text></g>
<g id="t8_23"><rect class="gr" x="775" y="-12" width="15" height="12"/><text class="l" transform="translate(780,-21)rotate(-90)">AP..378</text></g>
<g id="t8_24"><rect class="gr" x="793" y="-12" width="34" height="12"/><text class="l" transform="translate(812,-21)rotate(-90)">AP..379</text></g>
<g id="t8_25"><rect class="gr" x="829" y="-12" width="14" height="12"/><text class="l" transform="translate(838,-21)rotate(-90)">AP..380</text></g>
<g id="t8_26"><rect class="gr" x="845" y="-12" width="39" height="12"/><text class="l" transform="translate(865,-21)rotate(-90)">AP..381</text></g>
</g>

<!-- Track 9 -->
<g id="track9" class="g" transform="translate(0,1050.5)">
<text class="n" x="62" y="-1" text-anchor="end">2496942</text><text class="n" x="896" y="-1">2471942</text>
<polygon class="ar" points="62.5,8 55,11.4 62.5,14.8"/>
<text class="sp" x="902" y="-54">Escherichia_coli_BL21_DE3</text><text class="sp" x="902" y="-37">( chromosome )</text>
<g id="t9_1"><rect class="ychE" x="69" y="-12" width="18.3" height="12"/><text class="l" transform="translate(79,-21)rotate(-90)">EC..2382</text></g>
<g id="t9_2"><rect class="gr" x="87.3" y="-12" width="5.4" height="12"/><text class="l" transform="translate(91.5,-21)rotate(-90)">EC..2381</text></g>
<g id="t9_3"><rect class="gr" x="92.7" y="0" width="10" height="12"/><text class="l" transform="translate(97.5,-21)rotate(-90)">EC..2380</text></g>
<g id="t9_4"><rect class="oppA" x="110" y="-12" width="55" height="12"/><text class="l" transform="translate(139,-21)rotate(-90)">EC..2379</text></g>
<g id="t9_5"><rect class="oppB" x="167.3" y="-12" width="30" height="12"/><text class="l" transform="translate(184.5,-21)rotate(-90)">oppB</text></g>
<g id="t9_6"><rect class="oppC" x="197.3" y="-12" width="31" height="12"/><text class="l" transform="translate(214,-21)rotate(-90)">EC..2377</text></g>
<g id="t9_7"><rect class="oppD" x="228.3" y="-12" width="34" height="12"/><text class="l" transform="translate(247,-21)rotate(-90)">oppD</text></g>
<g id="t9_8"><rect class="oppF" x="262.3" y="-12" width="32.7" height="12"/><text class="l" transform="translate(280.4,-21)rotate(-90)">EC..2375</text></g>
<g id="t9_9"><rect class="yciU" x="297.3" y="0" width="11" height="12"/><text class="l" transform="translate(304,-21)rotate(-90)">EC..2374</text></g>
<g id="t9_10"><rect class="cls" x="308.3" y="0" width="47.7" height="12"/><text class="l" transform="translate(334.5,-21)rotate(-90)">cls</text></g>
<g id="t9_11"><rect class="kch" x="369" y="0" width="41" height="12"/><text class="l" transform="translate(391.5,-21)rotate(-90)">EC..2372</text></g>
<g id="t9_12"><rect class="yciI" x="420.7" y="0" width="9.3" height="12"/><text class="l" transform="translate(427.4,-21)rotate(-90)">EC..2371</text></g>
<g id="t9_13"><rect class="tonB" x="437.3" y="-12" width="23.4" height="12"/><text class="l" transform="translate(451,-21)rotate(-90)">EC..2370</text></g>
<g id="t9_14"><rect class="yciA" x="462" y="0" width="12" height="12"/><text class="l" transform="translate(470,-21)rotate(-90)">EC..2369</text></g>
<g id="t9_15"><rect class="yciB" x="479.3" y="0" width="17.4" height="12"/><text class="l r" transform="translate(490,-21)rotate(-90)">EC..2368</text></g>
<g id="t9_16"><rect class="yciC" x="496.7" y="0" width="23.3" height="12"/><text class="l" transform="translate(510.4,-21)rotate(-90)">EC..2367</text></g>
<g id="t9_17"><rect class="ompW" x="533.3" y="-12" width="20" height="12"/><text class="l" transform="translate(545.3,-21)rotate(-90)">EC..2366</text></g>
<g id="t9_18"><rect class="yciE" x="556.7" y="0" width="16.6" height="12"/><text class="l" transform="translate(567,-21)rotate(-90)">EC..2365</text></g>
<g id="t9_19"><rect class="yciF" x="574" y="0" width="16.7" height="12"/><text class="l" transform="translate(584.4,-21)rotate(-90)">EC..2364</text></g>
<g id="t9_20"><rect class="yciG" x="595" y="0" width="5.7" height="12"/><text class="l" transform="translate(599.8,-21)rotate(-90)">EC..2363</text></g>
<g id="t9_21"><rect class="trpA" x="612.3" y="0" width="25.4" height="12"/><text class="l" transform="translate(627,-21)rotate(-90)">trpA</text></g>
<g id="t9_22"><rect class="trpB" x="637.7" y="0" width="40" height="12"/><text class="l" transform="translate(659.7,-21)rotate(-90)">EC..2361</text></g>
<g id="t9_23"><rect class="trpC" x="677.7" y="0" width="46.3" height="12"/><text class="l" transform="translate(702.8,-21)rotate(-90)">EC..2360</text></g>
<g id="t9_24"><rect class="trpD" x="724" y="0" width="52" height="12"/><text class="l" transform="translate(752,-21)rotate(-90)">EC..2359</text></g>
<g id="t9_25"><rect class="trpE" x="776" y="0" width="50.7" height="12"/><text class="l" transform="translate(803.3,-21)rotate(-90)">EC..2358</text></g>
<g id="t9_26"><rect class="yciV" x="836.7" y="-12" width="27.3" height="12"/><text class="l" transform="translate(852.3,-21)rotate(-90)">EC..2357</text></g>
<g id="t9_27"><rect class="yciO" x="864" y="-12" width="22" height="12"/><text class="l" transform="translate(877,-21)rotate(-90)">EC..2356</text></g>
<g id="t9_28"><rect class="tail" x="886" y="-12" width="3" height="12"/></g>
</g>

<!-- Track 10 -->
<g id="track10" class="g" transform="translate(0,1172.9)">
<text class="n" x="62" y="-1" text-anchor="end">1380793</text><text class="n" x="896" y="-1">1405793</text>
<polygon class="ar" points="55,8 62.5,11.4 55,14.8"/>
<text class="sp" x="902" y="-54">Escherichia_coli_ED1a</text><text class="sp" x="902" y="-37">( chromosome )</text>
<g id="t10_1"><rect class="ychE" x="68.3" y="-12" width="19" height="12"/><text class="l" transform="translate(79.8,-21)rotate(-90)">ychE</text></g>
<g id="t10_2"><rect class="gr" x="92" y="0" width="10" height="12"/><text class="l" transform="translate(99,-21)rotate(-90)">EC..1394</text></g>
<g id="t10_3"><rect class="oppA" x="111.3" y="-12" width="53.4" height="12"/><text class="l" transform="translate(140,-21)rotate(-90)">oppA</text></g>
<g id="t10_4"><rect class="oppB" x="167.7" y="-12" width="30" height="12"/><text class="l" transform="translate(184.7,-21)rotate(-90)">oppB</text></g>
<g id="t10_5"><rect class="oppC" x="197.7" y="-12" width="30.3" height="12"/><text class="l" transform="translate(214.8,-21)rotate(-90)">oppC</text></g>
<g id="t10_6"><rect class="oppD" x="228" y="-12" width="34" height="12"/><text class="l" transform="translate(247,-21)rotate(-90)">oppD</text></g>
<g id="t10_7"><rect class="oppF" x="262" y="-12" width="33" height="12"/><text class="l" transform="translate(280.5,-21)rotate(-90)">oppF</text></g>
<g id="t10_8"><rect class="yciU" x="297.3" y="0" width="11" height="12"/><text class="l" transform="translate(304.8,-21)rotate(-90)">yciU</text></g>
<g id="t10_9"><rect class="cls" x="308.3" y="0" width="47.7" height="12"/><text class="l" transform="translate(334.2,-21)rotate(-90)">cls</text></g>
<g id="t10_10"><rect class="yciY" x="358.3" y="-12" width="7.7" height="12"/><text class="l" transform="translate(364.2,-21)rotate(-90)">EC..1402</text></g>
<g id="t10_11"><rect class="kch" x="369" y="0" width="41" height="12"/><text class="l" transform="translate(391.5,-21)rotate(-90)">kch</text></g>
<g id="t10_12"><rect class="yciI" x="420.7" y="0" width="9.3" height="12"/><text class="l" transform="translate(427.4,-21)rotate(-90)">yciI</text></g>
<g id="t10_13"><rect class="tonB" x="437.3" y="-12" width="23.4" height="12"/><text class="l" transform="translate(451,-21)rotate(-90)">tonB</text></g>
<g id="t10_14"><rect class="yciA" x="462" y="0" width="12" height="12"/><text class="l" transform="translate(470,-21)rotate(-90)">yciA</text></g>
<g id="t10_15"><rect class="yciB" x="479.3" y="0" width="17.4" height="12"/><text class="l r" transform="translate(490,-21)rotate(-90)">yciB</text></g>
<g id="t10_16"><rect class="yciC" x="496.7" y="0" width="23.3" height="12"/><text class="l" transform="translate(510.4,-21)rotate(-90)">yciC</text></g>
<g id="t10_17"><rect class="ompW" x="533.3" y="-12" width="20" height="12"/><text class="l" transform="translate(545.3,-21)rotate(-90)">ompW</text></g>
<g id="t10_18"><rect class="intE" x="555.7" y="0" width="36.6" height="12"/><text class="l" transform="translate(576,-21)rotate(-90)">EC..1411</text></g>
<g id="t10_19"><rect class="gr" x="592.3" y="0" width="7" height="12"/><text class="l" transform="translate(598,-21)rotate(-90)">EC..1412</text></g>
<g id="t10_20"><rect class="gr" x="614.3" y="0" width="14.7" height="12"/><text class="l" transform="translate(623,-21)rotate(-90)">EC..1414</text></g>
<g id="t10_21"><rect class="gr" x="629" y="0" width="8.3" height="12"/><text class="l" transform="translate(635,-21)rotate(-90)">insA</text></g>
<g id="t10_22"><rect class="gr" x="642.3" y="-12" width="6" height="12"/><text class="l" transform="translate(646,-21)rotate(-90)">EC..1416</text></g>
<g id="t10_23"><rect class="gr" x="648.3" y="-12" width="17.4" height="12"/><text class="l" transform="translate(658,-21)rotate(-90)">EC..1417</text></g>
<g id="t10_24"><rect class="gr" x="695.7" y="-12" width="8.6" height="12"/><text class="l" transform="translate(702,-21)rotate(-90)">rem</text></g>
<g id="t10_25"><rect class="gr" x="715.7" y="-12" width="34.3" height="12"/><text class="l" transform="translate(736,-21)rotate(-90)">ydfU</text></g>
<g id="t10_26"><rect class="gr" x="750" y="-12" width="12.7" height="12"/><text class="l" transform="translate(758,-21)rotate(-90)">EC..1420</text></g>
<g id="t10_27"><rect class="gr" x="762.7" y="-12" width="26" height="12"/><text class="l" transform="translate(778,-21)rotate(-90)">EC..1421</text></g>
<g id="t10_28"><rect class="gr" x="794.3" y="-12" width="8.4" height="12"/><text class="l" transform="translate(800,-21)rotate(-90)">EC..1422</text></g>
</g>

<!-- Track 11 -->
<g id="track11" class="g" transform="translate(0,1295.3)">
<text class="n" x="62" y="-1" text-anchor="end">1315739</text><text class="n" x="896" y="-1">1340739</text>
<polygon class="ar" points="55,8 62.5,11.4 55,14.8"/>
<text class="sp" x="902" y="-54">Escherichia_coli_S88</text><text class="sp" x="902" y="-37">( chromosome )</text>
<g id="t11_1"><rect class="ychE" x="68.3" y="-12" width="19" height="12"/><text class="l" transform="translate(79.8,-21)rotate(-90)">ychE</text></g>
<g id="t11_2"><rect class="gr" x="92" y="0" width="10" height="12"/><text class="l" transform="translate(99,-21)rotate(-90)">EC..1310</text></g>
<g id="t11_3"><rect class="oppA" x="111.3" y="-12" width="53.4" height="12"/><text class="l" transform="translate(140,-21)rotate(-90)">oppA</text></g>
<g id="t11_4"><rect class="oppB" x="167.7" y="-12" width="30" height="12"/><text class="l" transform="translate(184.7,-21)rotate(-90)">oppB</text></g>
<g id="t11_5"><rect class="oppC" x="197.7" y="-12" width="30.3" height="12"/><text class="l" transform="translate(214.8,-21)rotate(-90)">oppC</text></g>
<g id="t11_6"><rect class="oppD" x="228" y="-12" width="34" height="12"/><text class="l" transform="translate(247,-21)rotate(-90)">oppD</text></g>
<g id="t11_7"><rect class="oppF" x="262" y="-12" width="33" height="12"/><text class="l" transform="translate(280.5,-21)rotate(-90)">oppF</text></g>
<g id="t11_8"><rect class="yciU" x="297.3" y="0" width="11" height="12"/><text class="l" transform="translate(304.8,-21)rotate(-90)">yciU</text></g>
<g id="t11_9"><rect class="cls" x="308.3" y="0" width="47.7" height="12"/><text class="l" transform="translate(334.2,-21)rotate(-90)">cls</text></g>
<g id="t11_10"><rect class="yciY" x="358.3" y="-12" width="7.7" height="12"/><text class="l" transform="translate(364.2,-21)rotate(-90)">EC..1318</text></g>
<g id="t11_11"><rect class="kch" x="369" y="0" width="41" height="12"/><text class="l" transform="translate(391.5,-21)rotate(-90)">kch</text></g>
<g id="t11_12"><rect class="yciI" x="420.7" y="0" width="9.3" height="12"/><text class="l" transform="translate(427.4,-21)rotate(-90)">yciI</text></g>
<g id="t11_13"><rect class="tonB" x="437.3" y="-12" width="23.4" height="12"/><text class="l" transform="translate(451,-21)rotate(-90)">tonB</text></g>
<g id="t11_14"><rect class="yciA" x="462" y="0" width="12" height="12"/><text class="l" transform="translate(470,-21)rotate(-90)">yciA</text></g>
<g id="t11_15"><rect class="yciB" x="479.3" y="0" width="17.4" height="12"/><text class="l r" transform="translate(490,-21)rotate(-90)">yciB</text></g>
<g id="t11_16"><rect class="yciC" x="496.7" y="0" width="23.3" height="12"/><text class="l" transform="translate(510.4,-21)rotate(-90)">yciC</text></g>
<g id="t11_17"><rect class="ompW" x="533.3" y="-12" width="20" height="12"/><text class="l" transform="translate(545.3,-21)rotate(-90)">ompW</text></g>
<g id="t11_18"><rect class="intE" x="552" y="0" width="40.3" height="12"/><text class="l" transform="translate(576,-21)rotate(-90)">EC..1327</text></g>
<g id="t11_19"><rect class="gr" x="592.3" y="0" width="7" height="12"/><text class="l" transform="translate(598,-21)rotate(-90)">EC..1328</text></g>
<g id="t11_20"><rect class="gr" x="602.7" y="0" width="81.3" height="12"/><text class="l" transform="translate(645,-21)rotate(-90)">EC..1329</text></g>
<g id="t11_21"><rect class="gr" x="687.7" y="0" width="5" height="12"/><text class="l" transform="translate(691,-21)rotate(-90)">ydfD</text></g>
<g id="t11_22"><rect class="gr" x="692.7" y="0" width="10.6" height="12"/><text class="l" transform="translate(698,-21)rotate(-90)">EC..1331</text></g>
<g id="t11_23"><rect class="gr" x="710.7" y="-12" width="7" height="12"/><text class="l" transform="translate(714,-21)rotate(-90)">EC..1332</text></g>
<g id="t11_24"><rect class="gr" x="718.3" y="0" width="7.4" height="12"/><text class="l" transform="translate(722,-21)rotate(-90)">ydfC</text></g>
<g id="t11_25"><rect class="gr" x="725.7" y="0" width="4.3" height="12"/><text class="l" transform="translate(728,-21)rotate(-90)">ydfB</text></g>
<g id="t11_26"><rect class="gr" x="730" y="0" width="8.3" height="12"/><text class="l" transform="translate(735,-21)rotate(-90)">ydfA</text></g>
<g id="t11_27"><rect class="gr" x="745.7" y="0" width="21" height="12"/><text class="l" transform="translate(758,-21)rotate(-90)">EC..1336</text></g>
<g id="t11_28"><rect class="gr" x="768.3" y="-12" width="5" height="12"/><text class="l" transform="translate(773,-21)rotate(-90)">EC..1337</text></g>
<g id="t11_29"><rect class="gr" x="773.3" y="-12" width="16.7" height="12"/><text class="l" transform="translate(779,-21)rotate(-90)">EC..1338</text></g>
<g id="t11_30"><rect class="gr" x="792.7" y="-12" width="36.6" height="12"/><text class="l" transform="translate(812,-21)rotate(-90)">EC..1339</text></g>
<g id="t11_31"><rect class="gr" x="829.3" y="-12" width="14" height="12"/><text class="l" transform="translate(837.5,-21)rotate(-90)">EC..1340</text></g>
<g id="t11_32"><rect class="gr" x="845" y="-12" width="37.3" height="12"/><text class="l" transform="translate(865,-21)rotate(-90)">EC..1341</text></g>
<g id="t11_33"><rect class="gr" x="882.3" y="-12" width="7.7" height="12"/></g>
</g>

<!-- Track 12 -->
<g id="track12" class="g" transform="translate(0,1417.7)">
<text class="n" x="62" y="-1" text-anchor="end">1914558</text><text class="n" x="896" y="-1">1889558</text>
<polygon class="ar" points="62.5,8 55,11.4 62.5,14.8"/>
<text class="sp" x="902" y="-54">Escherichia_coli_SMS_3_5</text><text class="sp" x="902" y="-37">( chromosome )</text>
<g id="t12_1"><rect class="oppF" x="69" y="-12" width="26" height="12"/><text class="l" transform="translate(82,-21)rotate(-90)">oppF</text></g>
<g id="t12_2"><rect class="yciU" x="97.3" y="0" width="11" height="12"/><text class="l" transform="translate(103,-21)rotate(-90)">Ec..1892</text></g>
<g id="t12_3"><rect class="cls" x="108.3" y="0" width="48.4" height="12"/><text class="l" transform="translate(133,-21)rotate(-90)">cls</text></g>
<g id="t12_4"><rect class="kch" x="169.3" y="0" width="38.4" height="12"/><text class="l" transform="translate(190,-21)rotate(-90)">kch</text></g>
<g id="t12_5"><rect class="gr" x="231.7" y="0" width="17.6" height="12"/><text class="l" transform="translate(242.5,-21)rotate(-90)">Ec..1889</text></g>
<g id="t12_6"><rect class="gr" x="249.3" y="0" width="29" height="12"/><text class="l" transform="translate(265,-21)rotate(-90)">Ec..1888</text></g>
<g id="t12_7"><rect class="gr" x="278.3" y="0" width="12.4" height="12"/><text class="l" transform="translate(285,-21)rotate(-90)">Ec..1887</text></g>
<g id="t12_8"><rect class="gr" x="290.7" y="0" width="11.6" height="12"/><text class="l" transform="translate(298.5,-21)rotate(-90)">Ec..1886</text></g>
<g id="t12_9"><rect class="gr" x="311.7" y="-12" width="7.6" height="12"/><text class="l" transform="translate(316,-21)rotate(-90)">Ec..1885</text></g>
<g id="t12_10"><rect class="gr" x="324.3" y="-12" width="19" height="12"/><text class="l" transform="translate(336,-21)rotate(-90)">Ec..1883</text></g>
<g id="t12_11"><rect class="gr" x="344" y="0" width="59.3" height="12"/><text class="l" transform="translate(375,-21)rotate(-90)">Ec..1884</text></g>
<g id="t12_12"><rect class="gr" x="406.7" y="0" width="8.3" height="12"/><text class="l" transform="translate(412.5,-21)rotate(-90)">Ec..1882</text></g>
<g id="t12_13"><rect class="yciI" x="420.7" y="0" width="9.3" height="12"/><text class="l" transform="translate(426,-21)rotate(-90)">Ec..1881</text></g>
<g id="t12_14"><rect class="tonB" x="437.3" y="-12" width="23.4" height="12"/><text class="l" transform="translate(451,-21)rotate(-90)">tonB</text></g>
<g id="t12_15"><rect class="yciA" x="462.3" y="0" width="12.7" height="12"/><text class="l" transform="translate(470,-21)rotate(-90)">yciA</text></g>
<g id="t12_16"><rect class="yciB" x="479.3" y="0" width="17.4" height="12"/><text class="l r" transform="translate(490,-21)rotate(-90)">ispZ</text></g>
<g id="t12_17"><rect class="yciC" x="496.7" y="0" width="23.3" height="12"/><text class="l" transform="translate(510.4,-21)rotate(-90)">Ec..1877</text></g>
<g id="t12_18"><rect class="ompW" x="533.3" y="-12" width="20" height="12"/><text class="l" transform="translate(545.3,-21)rotate(-90)">ompW</text></g>
<g id="t12_19"><rect class="yciE" x="556.7" y="0" width="9.3" height="12"/><text class="l" transform="translate(563,-21)rotate(-90)">Ec..1875</text></g>
<g id="t12_20"><rect class="yciF" x="574" y="0" width="16.7" height="12"/><text class="l" transform="translate(584.4,-21)rotate(-90)">yciF</text></g>
<g id="t12_21"><rect class="yciG" x="595" y="0" width="5.7" height="12"/><text class="l" transform="translate(599.8,-21)rotate(-90)">Ec..1873</text></g>
<g id="t12_22"><rect class="trpA" x="612.3" y="0" width="25.4" height="12"/><text class="l" transform="translate(627,-21)rotate(-90)">trpA</text></g>
<g id="t12_23"><rect class="trpB" x="637.7" y="0" width="40" height="12"/><text class="l" transform="translate(659.7,-21)rotate(-90)">trpB</text></g>
<g id="t12_24"><rect class="trpC" x="677.7" y="0" width="46.3" height="12"/><text class="l" transform="translate(702.8,-21)rotate(-90)">trpC</text></g>
<g id="t12_25"><rect class="trpD" x="724" y="0" width="52" height="12"/><text class="l" transform="translate(752,-21)rotate(-90)">trpD</text></g>
<g id="t12_26"><rect class="trpE" x="776" y="0" width="50.7" height="12"/><text class="l" transform="translate(803.3,-21)rotate(-90)">trpE</text></g>
<g id="t12_27"><rect class="yciV" x="836.7" y="-12" width="27.3" height="12"/><text class="l" transform="translate(852.3,-21)rotate(-90)">Ec..1867</text></g>
<g id="t12_28"><rect class="yciO" x="864" y="-12" width="22" height="12"/><text class="l" transform="translate(877,-21)rotate(-90)">Ec..1866</text></g>
<g id="t12_29"><rect class="tail" x="886" y="-12" width="3" height="12"/></g>
</g>

<!-- Track 13 -->
<g id="track13" class="g" transform="translate(0,1540.1)">
<text class="n" x="62" y="-1" text-anchor="end">1310102</text><text class="n" x="896" y="-1">1335102</text>
<text class="sp" x="902" y="-54">Shigella_flexneri_5_8401</text><text class="sp" x="902" y="-37">( chromosome )</text>
<g id="t13_1"><rect class="oppA" x="69" y="-12" width="53.3" height="12"/><text class="l" transform="translate(98,-21)rotate(-90)">oppA</text></g>
<g id="t13_2"><rect class="oppB" x="125" y="-12" width="30" height="12"/><text class="l" transform="translate(142,-21)rotate(-90)">oppB</text></g>
<g id="t13_3"><rect class="oppC" x="155" y="-12" width="30.7" height="12"/><text class="l" transform="translate(172.3,-21)rotate(-90)">oppC</text></g>
<g id="t13_4"><rect class="oppD" x="185.7" y="-12" width="34.3" height="12"/><text class="l" transform="translate(204.8,-21)rotate(-90)">oppD</text></g>
<g id="t13_5"><rect class="oppF" x="220" y="-12" width="32.3" height="12"/><text class="l" transform="translate(238.2,-21)rotate(-90)">oppF</text></g>
<g id="t13_6"><rect class="yciU" x="255" y="0" width="11.7" height="12"/><text class="l" transform="translate(262.8,-21)rotate(-90)">SFV_1260</text></g>
<g id="t13_7"><rect class="cls" x="266.7" y="0" width="45" height="12"/><text class="l" transform="translate(291.2,-21)rotate(-90)">cls</text></g>
<g id="t13_8"><rect class="kch" x="326" y="0" width="41.7" height="12"/><text class="l" transform="translate(348.8,-21)rotate(-90)">kch</text></g>
<g id="t13_9"><rect class="gr" x="380.7" y="-12" width="9.3" height="12"/><text class="l" transform="translate(387.3,-21)rotate(-90)">SFV_1263</text></g>
<g id="t13_10"><rect class="gr" x="394.3" y="-12" width="23" height="12"/><text class="l" transform="translate(407.8,-21)rotate(-90)">SFV_1264</text></g>
<g id="t13_11"><rect class="yciI" x="420" y="0" width="9" height="12"/><text class="l" transform="translate(426.5,-21)rotate(-90)">yciI</text></g>
<g id="t13_12"><rect class="tonB" x="434.3" y="-12" width="25.7" height="12"/><text class="l" transform="translate(449.2,-21)rotate(-90)">tonB</text></g>
<g id="t13_13"><rect class="yciA" x="461.7" y="0" width="12.3" height="12"/><text class="l" transform="translate(470,-21)rotate(-90)">yciA</text></g>
<g id="t13_14"><rect class="yciB" x="479.3" y="0" width="17.4" height="12"/><text class="l r" transform="translate(490,-21)rotate(-90)">yciB</text></g>
<g id="t13_15"><rect class="yciC" x="496.7" y="0" width="23.3" height="12"/><text class="l" transform="translate(510.4,-21)rotate(-90)">yciC</text></g>
<g id="t13_16"><rect class="ompW" x="533.3" y="-12" width="20" height="12"/><text class="l" transform="translate(545.3,-21)rotate(-90)">yciD</text></g>
<g id="t13_17"><rect class="yciE" x="556.7" y="0" width="16.6" height="12"/><text class="l" transform="translate(567,-21)rotate(-90)">yciE</text></g>
<g id="t13_18"><rect class="yciF" x="574" y="0" width="16.7" height="12"/><text class="l" transform="translate(584.4,-21)rotate(-90)">yciF</text></g>
<g id="t13_19"><rect class="yciG" x="595" y="0" width="5.7" height="12"/><text class="l" transform="translate(599.8,-21)rotate(-90)">yciG</text></g>
<g id="t13_20"><rect class="trpA" x="612.3" y="0" width="25.4" height="12"/><text class="l" transform="translate(627,-21)rotate(-90)">trpA</text></g>
<g id="t13_21"><rect class="trpB" x="637.7" y="0" width="40" height="12"/><text class="l" transform="translate(659.7,-21)rotate(-90)">trpB</text></g>
<g id="t13_22"><rect class="trpC" x="677.7" y="0" width="46.3" height="12"/><text class="l" transform="translate(702.8,-21)rotate(-90)">trpC</text></g>
<g id="t13_23"><rect class="trpD" x="724" y="0" width="52" height="12"/><text class="l" transform="translate(752,-21)rotate(-90)">trpD</text></g>
<g id="t13_24"><rect class="trpE" x="776" y="0" width="50.7" height="12"/><text class="l" transform="translate(803.3,-21)rotate(-90)">trpE</text></g>
<g id="t13_25"><rect class="yciV" x="836.7" y="-12" width="27.3" height="12"/><text class="l" transform="translate(852.3,-21)rotate(-90)">yciV</text></g>
<g id="t13_26"><rect class="yciO" x="864" y="-12" width="22" height="12"/><text class="l" transform="translate(877,-21)rotate(-90)">yciO</text></g>
</g>
</svg>
